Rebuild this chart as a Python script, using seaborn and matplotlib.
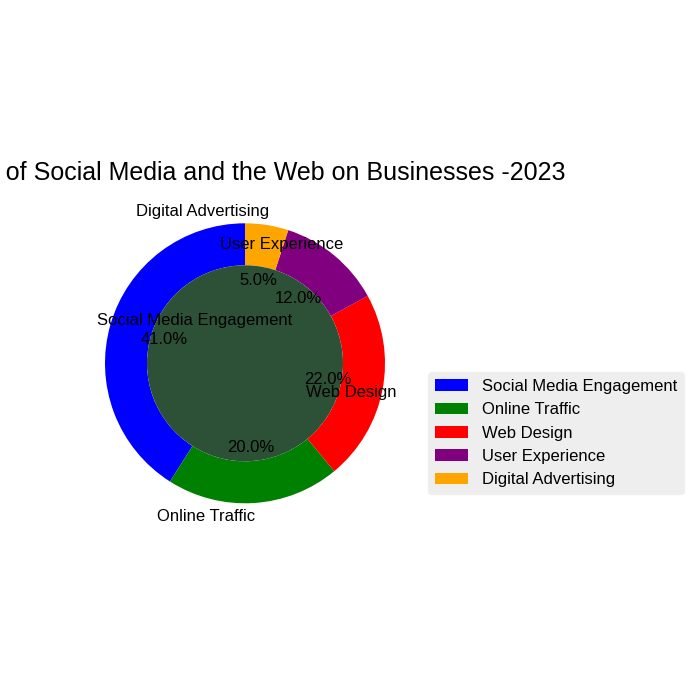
import matplotlib
matplotlib.use("Agg")
import matplotlib.pyplot as plt
import seaborn as sns

# data
categories = ["Social Media Engagement", "Online Traffic", "Web Design",
              "User Experience", "Digital Advertising"]
shares = [41, 20, 22, 12, 5]
colors = ["blue", "green", "red", "purple", "orange"]
title = "Impact of Social Media and the Web on Businesses -2023"

sns.set_theme(style="darkgrid")
plt.rcParams['font.family'] = ['Liberation Sans', 'DejaVu Sans']
plt.rcParams['text.color'] = 'black'

fig = plt.figure(figsize=(7, 7), dpi=100)
ax = fig.add_axes([0.1, 0.231, 0.5, 0.5])

wedges, texts, autotexts = ax.pie(shares, labels=categories, colors=colors,
                                  autopct='%1.1f%%', startangle=90, counterclock=False,
                                  wedgeprops=dict(width=0.3, linewidth=0),
                                  textprops=dict(color='black', fontsize=12))

# donut centre
centre = plt.Circle((0, 0), 0.7, color='#2d5136', linewidth=0)
ax.add_patch(centre)
ax.invert_xaxis()
ax.set_aspect('equal')

ax.set_title(title, fontsize=18, color='black')
ax.legend(wedges, categories, loc='center left', bbox_to_anchor=(1, 0.3),
          fontsize=12, facecolor='#EAEAEA', edgecolor='#EEEEEE')

plt.savefig("out.png")
